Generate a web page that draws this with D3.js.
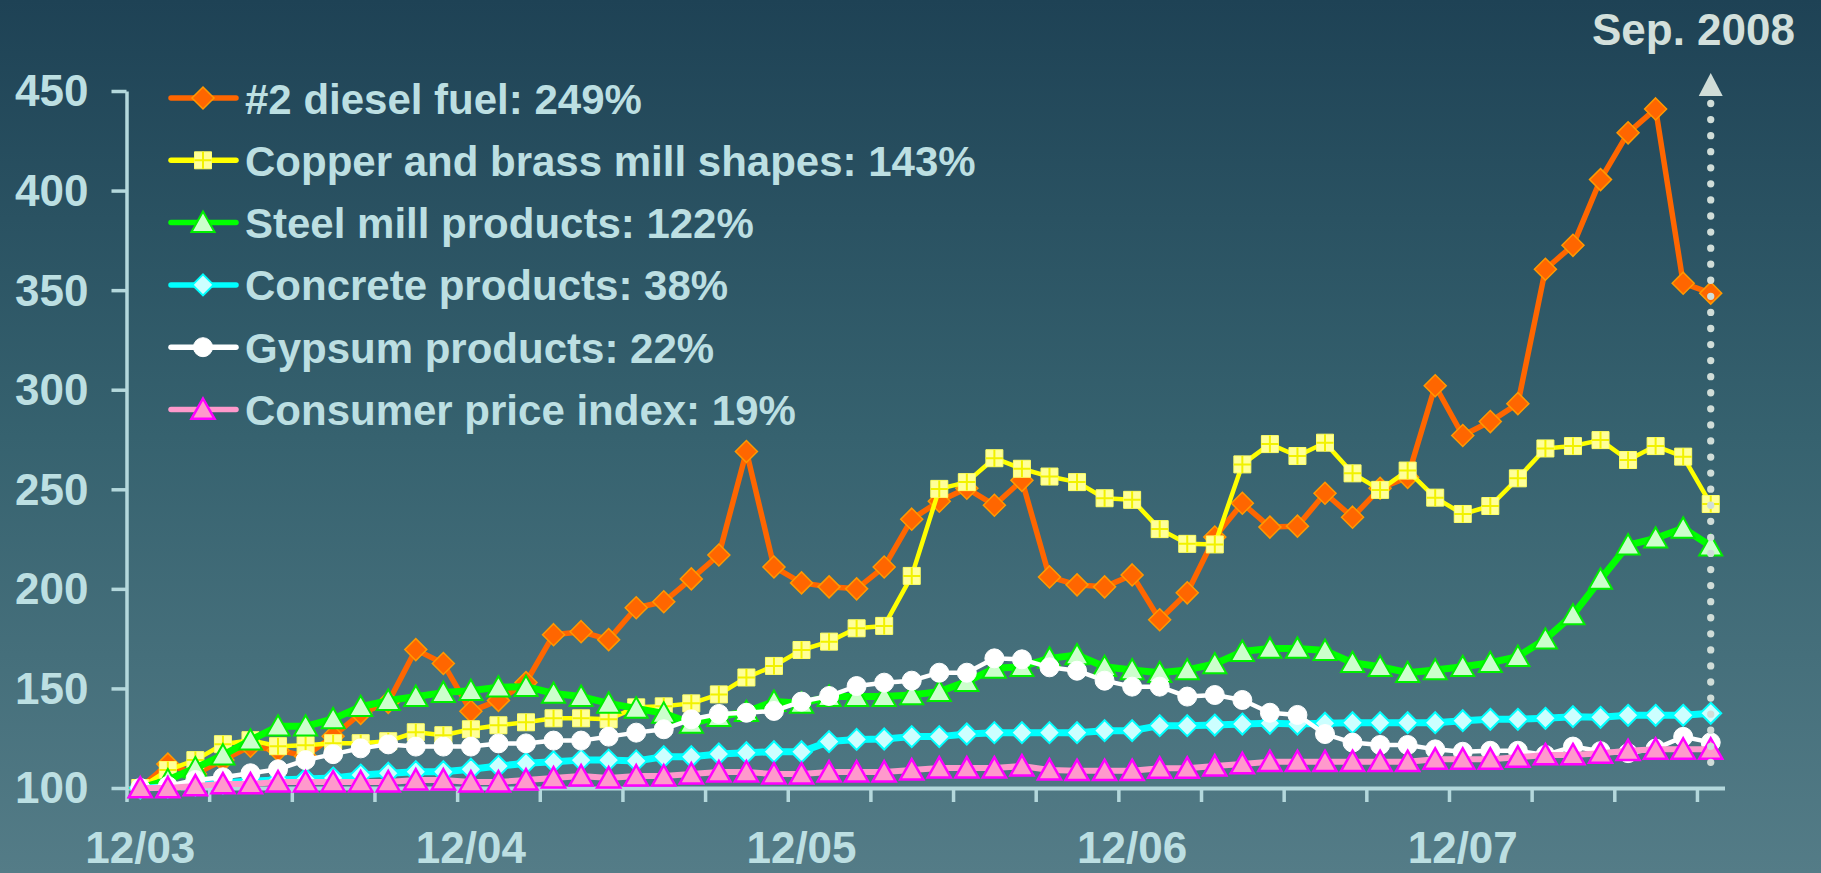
<!DOCTYPE html>
<html>
<head>
<meta charset="utf-8">
<script src="https://cdn.jsdelivr.net/npm/d3@7"></script>
<style>
  html, body { margin: 0; padding: 0; background: #2e5a6a; }
  svg { display: block; }
  text { font-family: "Liberation Sans", Arial, sans-serif; font-weight: bold; }
</style>
</head>
<body>
<div id="chart"></div>
<script>
// monthly index values, Dec 2003 = 100, through Sep 2008
var diesel = [100, 112, 107, 114, 121, 119, 116, 126, 137.5, 143, 169.5, 162.5, 138.5, 144, 153, 177, 178.5, 174.5,
  190.5, 193.5, 205, 217, 269, 211, 203, 201, 200, 211, 235, 244, 250.5, 242, 254.5, 206, 202, 201,
  207, 184.5, 198, 226, 243, 231, 231.5, 248, 236, 250.5, 256, 302, 277, 284, 293, 360.5, 372.5, 405.5,
  429, 441, 353.5, 348.5];
var copper = [100, 109, 114, 122, 124, 121, 121.5, 122.5, 122.5, 123.5, 128, 126.5, 129.5, 131.5, 133, 135, 135, 134.5,
  140.5, 141, 142.5, 147, 155.5, 161.3, 169.3, 173.5, 180.2, 181.4, 206.5, 250.2, 253.6, 265.6, 260.3, 256.4, 253.6, 245.5,
  244.7, 230, 222.6, 222.3, 262.5, 272.7, 266.7, 273.4, 258, 249.7, 259.4, 245.8, 237.6, 241.6, 255.5, 270.5, 271.7, 274.7,
  264.7, 271.7, 266.4, 242.6];
var steel = [100, 104, 110, 116.5, 124, 131, 131, 134.7, 140.8, 143.9, 145.9, 147.9, 148.9, 150.6, 150.9, 147.5, 145.9, 142.5,
  140, 137.5, 132.5, 135.8, 138.3, 143.4, 142.5, 145.9, 145.9, 145.9, 146.7, 148.4, 153.4, 160.1, 160.9, 165.1, 166.8, 160.9,
  159.3, 157.9, 159.3, 162.3, 168.5, 170.1, 170.1, 169, 162.9, 160.9, 157.9, 159.3, 160.9, 162.9, 166, 174.7, 186.9, 204.8,
  222, 225.4, 230.4, 221.5];
var concrete = [100, 100.5, 101.5, 102.5, 103.5, 104, 104.5, 105, 106.5, 107.4, 108.2, 108.2, 109.4, 111, 112.4, 113.2, 114, 114,
  113.6, 115.7, 115.7, 117.1, 117.7, 118.2, 118.2, 123.3, 124.4, 124.6, 125.8, 125.8, 127.1, 127.8, 127.8, 127.8, 127.8, 128.8,
  128.8, 131.3, 131.3, 131.6, 132.1, 132.5, 132.1, 132.5, 132.8, 132.8, 132.8, 132.8, 133.8, 134.5, 134.5, 135, 135.8, 135.5,
  136.5, 136.5, 136.5, 137.5];
var gypsum = [100, 101, 104, 105.4, 107.4, 109.4, 114, 117, 119.9, 121.9, 120.8, 120.8, 120.8, 122.4, 122.4, 123.8, 123.8, 125.8,
  127.8, 129.5, 134.5, 137.2, 137.8, 138.7, 143.4, 146.2, 151.2, 152.9, 153.9, 157.9, 157.9, 165.1, 164.6, 160.6, 158.9, 153.9,
  150.9, 150.9, 145.9, 146.7, 144.2, 137.8, 136.7, 127.1, 122.8, 121.6, 121.6, 119.4, 118.2, 118.7, 118.7, 116.6, 120.8, 118.5,
  117.5, 119.8, 125.7, 122.9];
var cpi = [100, 100, 101, 102, 102, 103, 103, 103, 103, 103, 104, 104, 103, 103, 104, 105, 106, 105,
  106, 106, 107, 108, 108, 107, 107, 108, 108, 108, 109, 110, 110, 110, 111, 109, 108.7, 108.7,
  108.7, 109.9, 109.9, 111, 112.1, 113.2, 113.2, 113.2, 113.2, 113.2, 113.2, 114.4, 114.4, 114.4, 115.4, 116.6, 116.6, 117.4,
  118.7, 119.4, 119.4, 119.4];

var seriesNames = ["#2 diesel fuel: 249%", "Copper and brass mill shapes: 143%", "Steel mill products: 122%",
  "Concrete products: 38%", "Gypsum products: 22%", "Consumer price index: 19%"];
var yTicks = [100, 150, 200, 250, 300, 350, 400, 450];
var xLabels = ["12/03", "12/04", "12/05", "12/06", "12/07"];
var xLabelIdx = [0, 12, 24, 36, 48];
var lastLabel = "Sep. 2008";

var W = 1821, H = 873;
var labelColor = "#bcdfe2";

// line + marker look for each series, same order as names
var styles = [
  {line: "#ff6600", lw: 5.5, marker: "diamond", r: 11, fill: "#ff6600", stroke: "#ff9900", sw: 1.5},
  {line: "#ffff00", lw: 4.5, marker: "square", r: 8.5, fill: "#ffff99", stroke: "#ffff66", sw: 1},
  {line: "#00ff00", lw: 7, marker: "triangle", r: 11, fill: "#ccffcc", stroke: "#00ee00", sw: 2},
  {line: "#00ffff", lw: 7, marker: "diamond", r: 10.5, fill: "#ccffff", stroke: "#00ffff", sw: 2},
  {line: "#ffffff", lw: 4.5, marker: "circle", r: 9.5, fill: "#ffffff", stroke: "#ffffff", sw: 1},
  {line: "#ff99cc", lw: 6, marker: "triangle", r: 11, fill: "#ff99cc", stroke: "#ff00ff", sw: 2.5}
];
var allSeries = [diesel, copper, steel, concrete, gypsum, cpi];

var svg = d3.select("#chart").append("svg")
  .attr("width", W)
  .attr("height", H);

// background gradient
var defs = svg.append("defs");
var grad = defs.append("linearGradient")
  .attr("id", "bg")
  .attr("x1", 0).attr("y1", 0).attr("x2", 0).attr("y2", 1);
grad.append("stop").attr("offset", "0%").attr("stop-color", "#1e4255");
grad.append("stop").attr("offset", "50%").attr("stop-color", "#36626f");
grad.append("stop").attr("offset", "100%").attr("stop-color", "#547c87");
svg.append("rect")
  .attr("width", W).attr("height", H)
  .attr("fill", "url(#bg)");

var x = d3.scaleLinear().domain([-0.5, 57.5]).range([126.5, 1724.5]);
var y = d3.scaleLinear().domain([100, 450]).range([788, 91]);

// marker paths
var markerPath = function (type, r) {
  if (type === "diamond") return "M0," + (-r) + "L" + r + ",0L0," + r + "L" + (-r) + ",0Z";
  if (type === "square") return "M" + (-r) + "," + (-r) + "h" + (2 * r) + "v" + (2 * r) + "h" + (-2 * r) + "Z";
  if (type === "triangle") return "M0," + (-r) + "L" + (r * 1.05) + "," + (r * 0.85) + "L" + (-r * 1.05) + "," + (r * 0.85) + "Z";
  return d3.symbol().type(d3.symbolCircle).size(Math.PI * r * r)();
};

var drawMarker = function (g, st) {
  g.append("path")
    .attr("d", markerPath(st.marker, st.r))
    .attr("fill", st.fill)
    .attr("stroke", st.stroke)
    .attr("stroke-width", st.sw);
  if (st.marker === "square") {
    g.append("path")
      .attr("d", "M" + (-st.r) + ",0H" + st.r + "M0," + (-st.r) + "V" + st.r)
      .attr("stroke", "#f2f200")
      .attr("stroke-width", 2);
  }
};

// AXES
var xAxis = d3.axisBottom(x)
  .tickValues(d3.range(-0.5, 57, 3))
  .tickSize(14)
  .tickSizeOuter(0)
  .tickFormat("");
var gx = svg.append("g")
  .attr("transform", "translate(0," + y(100) + ")")
  .call(xAxis);
gx.select(".domain").attr("stroke", "#b4d8dc").attr("stroke-width", 4);
gx.selectAll(".tick line").attr("stroke", "#b4d8dc").attr("stroke-width", 3.5);

var yAxis = d3.axisLeft(y)
  .tickValues(yTicks)
  .tickSize(15)
  .tickSizeOuter(0)
  .tickPadding(23);
var gy = svg.append("g")
  .attr("transform", "translate(" + x(-0.5) + ",0)")
  .call(yAxis);
gy.select(".domain").attr("stroke", "#b4d8dc").attr("stroke-width", 3.5);
gy.selectAll(".tick line").attr("stroke", "#b4d8dc").attr("stroke-width", 3.5);
gy.selectAll(".tick text")
  .attr("fill", labelColor)
  .attr("font-size", 44)
  .attr("font-family", "'Liberation Sans', Arial, sans-serif")
  .attr("font-weight", "bold")
  .attr("dy", "0.34em");

svg.append("g").selectAll("text")
  .data(xLabels)
  .enter()
  .append("text")
  .attr("x", function (d, i) { return x(xLabelIdx[i]); })
  .attr("y", 863)
  .attr("text-anchor", "middle")
  .attr("font-size", 44)
  .attr("fill", labelColor)
  .text(function (d) { return d; });

// SERIES (later series drawn on top)
var line = d3.line()
  .x(function (d, i) { return x(i); })
  .y(function (d) { return y(d); });

allSeries.forEach(function (vals, s) {
  var st = styles[s];
  var g = svg.append("g").attr("class", "series");
  g.append("path")
    .datum(vals)
    .attr("d", line)
    .attr("fill", "none")
    .attr("stroke", st.line)
    .attr("stroke-width", st.lw)
    .attr("stroke-linejoin", "round");
  g.selectAll(".pt")
    .data(vals)
    .enter()
    .append("g")
    .attr("class", "pt")
    .attr("transform", function (d, i) { return "translate(" + x(i) + "," + y(d) + ")"; })
    .each(function () { drawMarker(d3.select(this), st); });
});

// LEGEND
var legend = svg.append("g");
seriesNames.forEach(function (name, s) {
  var st = styles[s];
  var by = 113.5 + s * 62.3;
  legend.append("line")
    .attr("x1", 171).attr("x2", 236)
    .attr("y1", by - 15.5).attr("y2", by - 15.5)
    .attr("stroke", st.line)
    .attr("stroke-width", 5.5)
    .attr("stroke-linecap", "round");
  drawMarker(legend.append("g").attr("transform", "translate(203," + (by - 15.5) + ")"), st);
  legend.append("text")
    .attr("x", 245)
    .attr("y", by)
    .attr("font-size", 42)
    .attr("fill", labelColor)
    .text(name);
});

// Sep. 2008 marker: dotted arrow
var xl = x(57);
svg.append("line")
  .attr("x1", xl).attr("x2", xl)
  .attr("y1", 103.5).attr("y2", 778)
  .attr("stroke", "#d0ddd8")
  .attr("stroke-width", 7.3)
  .attr("stroke-linecap", "round")
  .attr("stroke-dasharray", "0 16.07");
svg.append("path")
  .attr("d", "M" + xl + ",73L" + (xl + 12) + ",96L" + (xl - 12) + ",96Z")
  .attr("fill", "#d0ddd8");
svg.append("text")
  .attr("x", 1795)
  .attr("y", 45)
  .attr("text-anchor", "end")
  .attr("font-size", 44)
  .attr("fill", "#d3e0dc")
  .text(lastLabel);
</script>
</body>
</html>
